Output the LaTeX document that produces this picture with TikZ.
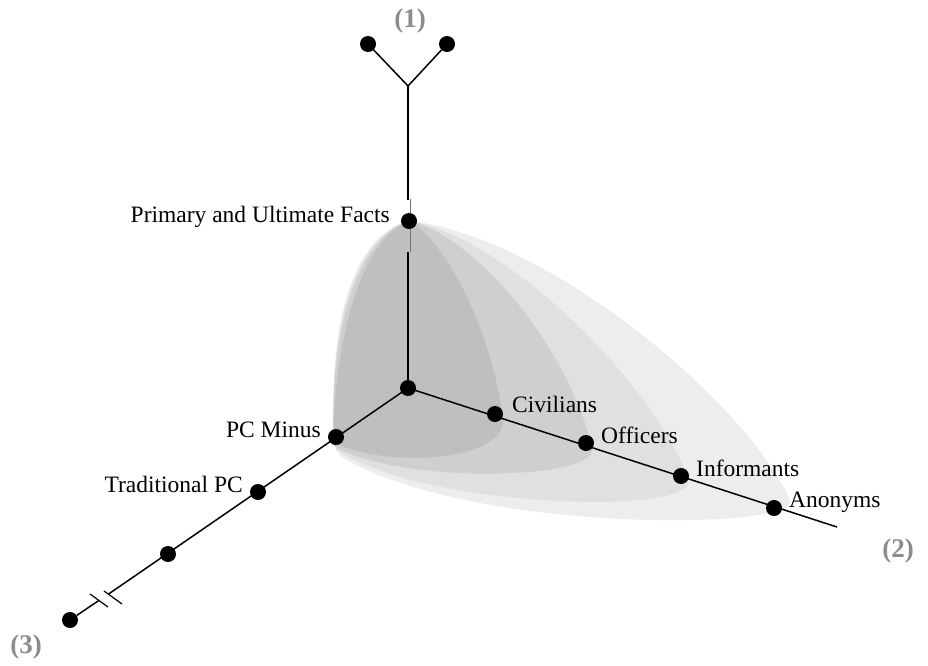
\documentclass[tikz,border=0pt]{standalone}
\usepackage{fontspec}
\setmainfont{Liberation Serif}
\usetikzlibrary{calc,positioning}

\begin{document}
\begin{tikzpicture}[x=1pt,y=-1pt,
    dot/.style={circle,fill=black,inner sep=0pt,minimum size=16pt},
    axis/.style={line width=1.5pt},
    tag/.style={inner sep=0pt,font=\fontsize{23.5}{28}\selectfont},
    axisno/.style={inner sep=0pt,text=black!45,font=\fontsize{27}{30}\selectfont\bfseries}]
  \useasboundingbox (0,0) rectangle (928,665);
  \coordinate (apex) at (409,221);
  \coordinate (o) at (408,388);
  % nested shells
  \fill[black!7] (apex) .. controls (545,235) and (745,400) .. (790,500)
    .. controls (805,530) and (470,535) .. (340,456)
    .. controls (322,340) and (350,235) .. (apex);
  \fill[black!12] (apex) .. controls (505,235) and (660,390) .. (688,480)
    .. controls (700,515) and (430,510) .. (336,450)
    .. controls (325,340) and (352,236) .. (apex);
  \fill[black!19] (apex) .. controls (475,235) and (570,350) .. (592,448)
    .. controls (600,480) and (400,485) .. (334,446)
    .. controls (328,340) and (355,238) .. (apex);
  \fill[black!25] (apex) .. controls (445,240) and (492,330) .. (503,420)
    .. controls (505,460) and (390,470) .. (333,442)
    .. controls (335,340) and (360,240) .. (apex);
  % axis (1)
  \coordinate (yj) at (408,86);
  \node[dot] (yl) at (368,44) {};
  \node[dot] (yr) at (447,44) {};
  \draw[axis] (yl) -- (yj) -- (yr);
  \coordinate (c1) at (408,200);
  \coordinate (c2) at (408,252);
  \draw[axis] (yj) -- (c1);
  \draw[black!55,line width=1pt] (410,199) -- (410,252);
  \draw[axis] (c2) -- (o);
  % axis (2)
  \coordinate (end2) at (837,527);
  \draw[axis] (o) -- (end2);
  % axis (3)
  \coordinate (b1) at (98.8,600.5);
  \coordinate (b2) at (108.6,594);
  \node[dot] (t4) at (70,620) {};
  \draw[axis] (o) -- (b2);
  \draw[axis] (b1) -- (t4);
  \draw[line width=1.2pt] (90,594) -- (108,607);
  \draw[line width=1.2pt] (104,591) -- (122,604);
  % points
  \node[dot] (orig) at (o) {};
  \node[dot] (pf) at (apex) {};
  \node[dot] (pcm) at (336,437) {};
  \node[dot] (tpc) at (258,492) {};
  \node[dot] (t3) at (168,554) {};
  \node[dot] (civ) at (495,414) {};
  \node[dot] (off) at (586,443) {};
  \node[dot] (inf) at (681,476) {};
  \node[dot] (ano) at (774,508) {};
  % labels
  \node[tag,anchor=base east] at ($(pf)+(-19,1)$) {Primary and Ultimate Facts};
  \node[tag,anchor=base east] at ($(pcm)+(-15,0)$) {PC Minus};
  \node[tag,anchor=base east] at ($(tpc)+(-15,0)$) {Traditional PC};
  \node[tag,anchor=base west] at ($(civ)+(17,-2)$) {Civilians};
  \node[tag,anchor=base west] at ($(off)+(15,0)$) {Officers};
  \node[tag,anchor=base west] at ($(inf)+(15,0)$) {Informants};
  \node[tag,anchor=base west] at ($(ano)+(15,-1)$) {Anonyms};
  \node[axisno,anchor=base] at (410,27) {(1)};
  \node[axisno,anchor=base] at (898,557) {(2)};
  \node[axisno,anchor=base] at (26,653) {(3)};
\end{tikzpicture}
\end{document}
